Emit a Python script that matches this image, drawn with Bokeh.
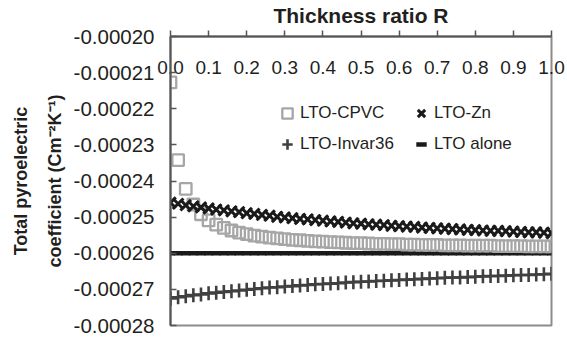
from bokeh.plotting import figure
from bokeh.models import (Range1d, FixedTicker, NumeralTickFormatter, Legend,
                          LegendItem, ColumnDataSource)
from bokeh.embed import file_html
from bokeh.resources import INLINE

# ---------------- data ----------------
R = [0.00, 0.02, 0.04, 0.06, 0.08, 0.10, 0.12, 0.14, 0.16, 0.18,
     0.20, 0.22, 0.24, 0.26, 0.28, 0.30, 0.32, 0.34, 0.36, 0.38,
     0.40, 0.42, 0.44, 0.46, 0.48, 0.50, 0.52, 0.54, 0.56, 0.58,
     0.60, 0.62, 0.64, 0.66, 0.68, 0.70, 0.72, 0.74, 0.76, 0.78,
     0.80, 0.82, 0.84, 0.86, 0.88, 0.90, 0.92, 0.94, 0.96, 0.98, 1.00]

lto_cpvc = [-0.0002127, -0.0002342, -0.0002422, -0.0002465, -0.0002492,
            -0.0002509, -0.0002521, -0.0002530, -0.0002537, -0.0002543,
            -0.0002547, -0.0002551, -0.0002554, -0.0002557, -0.0002559,
            -0.0002561, -0.0002563, -0.0002564, -0.0002566, -0.0002567,
            -0.0002568, -0.0002569, -0.0002570, -0.0002571, -0.0002572,
            -0.0002572, -0.0002573, -0.0002574, -0.0002574, -0.0002575,
            -0.0002575, -0.0002576, -0.0002576, -0.0002577, -0.0002577,
            -0.0002577, -0.0002578, -0.0002578, -0.0002578, -0.0002579,
            -0.0002579, -0.0002579, -0.0002579, -0.0002580, -0.0002580,
            -0.0002580, -0.0002580, -0.0002581, -0.0002581, -0.0002581,
            -0.0002581]

lto_zn = [-0.0002460, -0.0002463, -0.0002467, -0.0002470, -0.0002473,
          -0.0002476, -0.0002479, -0.0002481, -0.0002484, -0.0002486,
          -0.0002489, -0.0002491, -0.0002494, -0.0002496, -0.0002499,
          -0.0002501, -0.0002503, -0.0002505, -0.0002506, -0.0002508,
          -0.0002510, -0.0002512, -0.0002513, -0.0002515, -0.0002517,
          -0.0002518, -0.0002520, -0.0002521, -0.0002522, -0.0002524,
          -0.0002525, -0.0002526, -0.0002527, -0.0002529, -0.0002530,
          -0.0002531, -0.0002532, -0.0002533, -0.0002534, -0.0002535,
          -0.0002536, -0.0002537, -0.0002538, -0.0002538, -0.0002539,
          -0.0002540, -0.0002541, -0.0002542, -0.0002542, -0.0002543,
          -0.0002544]

lto_invar36 = [-0.0002725, -0.0002722, -0.0002719, -0.0002716, -0.0002714,
               -0.0002711, -0.0002709, -0.0002707, -0.0002705, -0.0002703,
               -0.0002701, -0.0002699, -0.0002697, -0.0002695, -0.0002694,
               -0.0002692, -0.0002691, -0.0002689, -0.0002688, -0.0002686,
               -0.0002685, -0.0002684, -0.0002683, -0.0002681, -0.0002680,
               -0.0002679, -0.0002678, -0.0002677, -0.0002676, -0.0002675,
               -0.0002674, -0.0002673, -0.0002672, -0.0002671, -0.0002670,
               -0.0002669, -0.0002668, -0.0002667, -0.0002667, -0.0002666,
               -0.0002665, -0.0002664, -0.0002663, -0.0002663, -0.0002662,
               -0.0002661, -0.0002660, -0.0002660, -0.0002659, -0.0002658,
               -0.0002657]

lto_alone = [-0.00026, -0.00026, -0.00026, -0.00026, -0.00026, -0.00026,
             -0.00026, -0.00026, -0.00026, -0.00026, -0.00026, -0.00026,
             -0.00026, -0.00026, -0.00026, -0.00026, -0.00026, -0.00026,
             -0.00026, -0.00026, -0.00026, -0.00026, -0.00026, -0.00026,
             -0.00026, -0.00026, -0.00026, -0.00026, -0.00026, -0.00026,
             -0.00026, -0.00026, -0.00026, -0.00026, -0.00026, -0.00026,
             -0.00026, -0.00026, -0.00026, -0.00026, -0.00026, -0.00026,
             -0.00026, -0.00026, -0.00026, -0.00026, -0.00026, -0.00026,
             -0.00026, -0.00026, -0.00026]

x_ticks = [0.0, 0.1, 0.2, 0.3, 0.4, 0.5, 0.6, 0.7, 0.8, 0.9, 1.0]
y_ticks = [-0.00028, -0.00027, -0.00026, -0.00025, -0.00024,
           -0.00023, -0.00022, -0.00021, -0.00020]

series_names = ["LTO-CPVC", "LTO-Zn", "LTO-Invar36", "LTO alone"]

# ---------------- figure ----------------
FONT = "Liberation Sans"
TXT = "#231f20"

src = ColumnDataSource(dict(R=R, cpvc=lto_cpvc, zn=lto_zn,
                            invar=lto_invar36, alone=lto_alone))

p = figure(width=567, height=339, output_backend="svg", toolbar_location=None,
           x_range=Range1d(0, 1.0), y_range=Range1d(-0.00028, -0.00020),
           x_axis_location="above",
           min_border_left=170, min_border_right=16,
           min_border_top=36, min_border_bottom=14)
p.background_fill_color = "white"
p.border_fill_color = "white"
p.grid.visible = False
p.outline_line_color = "#8c8c8c"
p.outline_line_width = 2

xa = p.xaxis[0]
xa.ticker = FixedTicker(ticks=x_ticks)
xa.formatter = NumeralTickFormatter(format="0.0")
xa.major_label_text_font = FONT
xa.major_label_text_font_size = "19px"
xa.major_label_text_color = TXT
xa.major_label_standoff = -43
xa.major_tick_out = 6
xa.major_tick_in = 0
xa.major_tick_line_color = "#555555"
xa.major_tick_line_width = 1.5
xa.minor_tick_line_color = None
xa.axis_line_color = "#555555"
xa.axis_line_width = 2
xa.axis_label = "Thickness ratio R"
xa.axis_label_text_font = FONT
xa.axis_label_text_font_style = "bold"
xa.axis_label_text_font_size = "21px"
xa.axis_label_text_color = TXT
xa.axis_label_standoff = 31

ya = p.yaxis[0]
ya.ticker = FixedTicker(ticks=y_ticks)
ya.formatter = NumeralTickFormatter(format="0.00000")
ya.major_label_text_font = FONT
ya.major_label_text_font_size = "20.5px"
ya.major_label_text_color = TXT
ya.major_label_standoff = 16
ya.major_tick_out = 0
ya.major_tick_in = 6
ya.major_tick_line_color = "#555555"
ya.major_tick_line_width = 1.5
ya.minor_tick_line_color = None
ya.axis_line_color = "#555555"
ya.axis_line_width = 2
ya.axis_label = "Total pyroelectric\ncoefficient (Cm\u207b\u00b2K\u207b\u00b9)"
ya.axis_label_text_font = FONT
ya.axis_label_text_font_style = "bold"
ya.axis_label_text_font_size = "18px"
ya.axis_label_text_color = TXT
ya.axis_label_text_line_height = 1.7
ya.axis_label_standoff = 6

r_alone = p.scatter("R", "alone", source=src, marker="dash", size=9,
                    line_color="#1a1a1a", line_width=4.5)
r_invar = p.scatter("R", "invar", source=src, marker="cross", size=14,
                    line_color="#404040", line_width=2.6)
r_cpvc = p.scatter("R", "cpvc", source=src, marker="square", size=11.5,
                   fill_color=None, line_color="#a6a6a6", line_width=2.3)
r_zn = p.scatter("R", "zn", source=src, marker="x", size=15,
                 line_color="#1a1a1a", line_width=3)

legend = Legend(items=[LegendItem(label=series_names[0], renderers=[r_cpvc]),
                       LegendItem(label=series_names[1], renderers=[r_zn]),
                       LegendItem(label=series_names[2], renderers=[r_invar]),
                       LegendItem(label=series_names[3], renderers=[r_alone])],
                orientation="horizontal", ncols=2,
                location=(104, 168),
                glyph_width=26, glyph_height=26, label_standoff=-15,
                label_width=103, label_height=26, spacing=5, padding=0, margin=0,
                border_line_color=None, background_fill_alpha=0,
                label_text_font=FONT, label_text_font_size="17px",
                label_text_color=TXT)
p.add_layout(legend)

open("out.html", "w").write(file_html(p, INLINE))
